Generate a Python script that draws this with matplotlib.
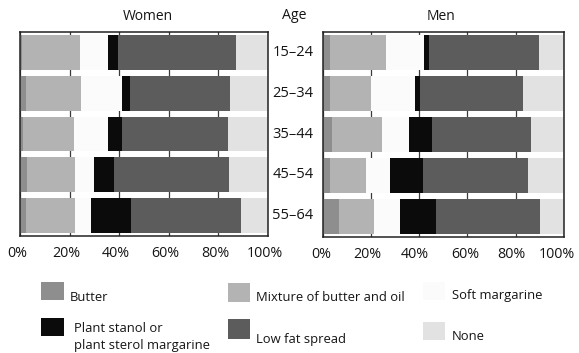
import numpy as np
import matplotlib
matplotlib.use("Agg")
import matplotlib.pyplot as plt
from matplotlib.patches import Rectangle
from matplotlib.transforms import ScaledTranslation

plt.rcParams['font.family'] = ['Open Sans', 'DejaVu Sans']

# Age groups (top to bottom)
ages = ['15–24', '25–34', '35–44', '45–54', '55–64']

# Spread types, in stacking order left to right
categories = ['Butter', 'Mixture of butter and oil', 'Soft margarine',
              'Plant stanol or\nplant sterol margarine', 'Low fat spread', 'None']
colors = ['#8e8e8e', '#b3b3b3', '#fbfbfb', '#0b0b0b', '#5c5c5c', '#e2e2e2']

# Percentages, women
women_butter = [0.8, 2.4, 1.4, 2.9, 2.6]
women_mixture = [23.2, 22.3, 20.5, 19.2, 19.5]
women_soft = [11.6, 16.6, 13.7, 7.7, 6.7]
women_stanol = [3.9, 3.1, 5.7, 8.1, 15.8]
women_lowfat = [47.4, 40.2, 42.4, 46.5, 44.6]
women_none = [13.1, 15.4, 16.3, 15.6, 10.8]

# Percentages, men
men_butter = [2.9, 2.9, 3.8, 3.1, 7.0]
men_mixture = [23.2, 17.0, 20.8, 14.8, 14.2]
men_soft = [15.8, 18.2, 11.3, 10.0, 10.8]
men_stanol = [2.3, 2.4, 9.5, 13.6, 15.0]
men_lowfat = [45.4, 42.7, 41.1, 43.5, 43.2]
men_none = [10.4, 16.8, 13.5, 15.0, 9.8]

xticks = [0, 20, 40, 60, 80, 100]
xtick_labels = ['0%', '20%', '40%', '60%', '80%', '100%']

W, H = 579, 353
fig = plt.figure(figsize=(W / 100, H / 100), dpi=100)
TXT = '#151515'


def px_axes(x0, y0, x1, y1):
    return [x0 / W, 1 - y1 / H, (x1 - x0) / W, (y1 - y0) / H]


def fx(x):
    return x / W


def fy(y):
    return 1 - y / H


ax_w = fig.add_axes(px_axes(20, 32, 268, 236))
ax_m = fig.add_axes(px_axes(322.5, 32, 564, 237))


def draw_panel(ax, series, label_shift):
    y = np.arange(len(ages))
    left = np.zeros(len(ages))
    for vals, col in zip(series, colors):
        vals = np.asarray(vals, dtype=float)
        ax.barh(y, vals, left=left, height=0.85, color=col,
                edgecolor='none', zorder=2)
        left += vals
    ax.set_xlim(0, 100)
    ax.set_ylim(4.5, -0.5)
    ax.set_yticks([])
    ax.set_xticks(xticks)
    ax.set_xticklabels(xtick_labels, fontsize=10.3)
    ax.tick_params(axis='x', length=0, pad=7, colors=TXT)
    for lbl, dx in zip(ax.get_xticklabels(), label_shift):
        lbl.set_transform(lbl.get_transform() +
                          ScaledTranslation(dx / 100, 0, fig.dpi_scale_trans))
    ax.grid(axis='x', color='#3a3a3a', linewidth=0.9, zorder=1)
    ax.set_axisbelow(True)
    for sp in ax.spines.values():
        sp.set_color('#222222')
        sp.set_linewidth(1.1)
        sp.set_zorder(3)


draw_panel(ax_w, [women_butter, women_mixture, women_soft,
                  women_stanol, women_lowfat, women_none],
           [-3, -3, -3, -3, -3, -3])
draw_panel(ax_m, [men_butter, men_mixture, men_soft,
                  men_stanol, men_lowfat, men_none],
           [-1, -3, -4, -2, -4, -7])

# Panel headings
fig.text(fx(148), fy(16), 'Women', ha='center', va='center',
         fontsize=10, color=TXT)
fig.text(fx(441), fy(16), 'Men', ha='center', va='center',
         fontsize=10, color=TXT)

# Age labels between the panels, aligned with the bars
fig.text(fx(294), fy(15.5), 'Age', ha='center', va='center',
         fontsize=10.2, color=TXT)
for i, age in enumerate(ages):
    yc = ax_w.transData.transform((0, i))[1]
    fig.text(fx(293), yc / fig.bbox.height, age, ha='center', va='center',
             fontsize=10.5, color=TXT)

# Legend: three columns, two rows
legend_slots = [
    # swatch (x, top, w, h), label (x, y centre)
    ((41, 282, 23, 18), (70, 297.5)),
    ((228, 283, 22, 19), (256.5, 297.5)),
    ((423, 282, 22, 18), (452, 296)),
    ((41, 318, 23, 18), (74, 337)),
    ((228, 319, 22, 19.5), (256, 339)),
    ((423, 322, 22, 18), (452, 336.5)),
]
for cat, col, (sw, lab) in zip(categories, colors, legend_slots):
    sx, sy, sw_w, sw_h = sw
    fig.add_artist(Rectangle((fx(sx), fy(sy + sw_h)), sw_w / W, sw_h / H,
                             transform=fig.transFigure, facecolor=col,
                             edgecolor='none'))
    fig.text(fx(lab[0]), fy(lab[1]), cat, ha='left', va='center',
             fontsize=9.4, color=TXT, linespacing=1.3)

fig.savefig('out.png', dpi=100)
